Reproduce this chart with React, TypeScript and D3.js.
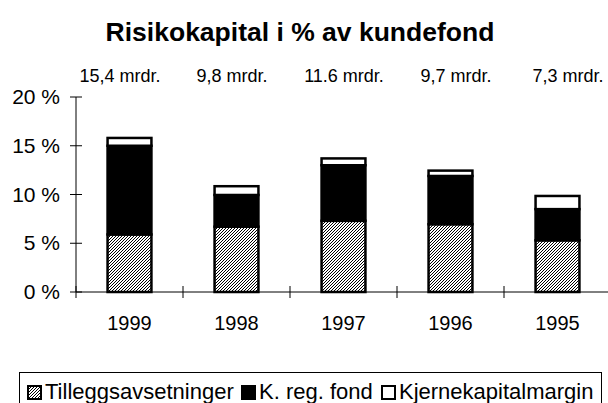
import React from 'react';
import { scaleBand, scaleLinear, scalePoint, stack } from 'd3';

const years = ['1999', '1998', '1997', '1996', '1995'];
const tillegg = [5.9, 6.7, 7.3, 6.95, 5.3];
const kRegFond = [9.1, 3.25, 5.7, 4.95, 3.2];
const kjerne = [0.8, 0.9, 0.7, 0.55, 1.35];
const sizeLabels = ['15,4 mrdr.', '9,8 mrdr.', '11.6 mrdr.', '9,7 mrdr.', '7,3 mrdr.'];
const yTicks = [0, 5, 10, 15, 20];
const seriesNames = ['Tilleggsavsetninger', 'K. reg. fond', 'Kjernekapitalmargin'];

const W = 608;
const H = 403;
const font = '"Liberation Sans", Arial, sans-serif';

// fills per series: hatch, solid black, white
const fills = ['url(#hatch)', '#000', '#fff'];

// pixel cells of a 3x3 "/" hatch tile
const hatchCells: [number, number][] = [];
for (let px = 0; px < 3; px++) {
  for (let py = 0; py < 3; py++) {
    if ((px + py) % 3 === 0) hatchCells.push([px, py]);
  }
}

const App = () => {
  const rows = years.map((y, i) => ({ year: y, a: tillegg[i], b: kRegFond[i], c: kjerne[i] }));
  const series = stack<any>().keys(['a', 'b', 'c'])(rows);

  const x = scaleBand().domain(years).range([76, 611]).paddingInner(0.59).paddingOuter(0.295);
  const y = scaleLinear().domain([0, 20]).range([292, 97]);
  const labelX = scalePoint().domain(years).range([120, 568]);

  const step = x.step();
  const catTicks = years.map((_, i) => 76 + i * step);

  const legendItems = [
    { name: seriesNames[0], x: 28 },
    { name: seriesNames[1], x: 242 },
    { name: seriesNames[2], x: 382 },
  ];

  return (
    <svg width={W} height={H} style={{ position: 'absolute', left: 0, top: 0, background: '#fff' }}>
      <defs>
        <pattern id="hatch" width="3" height="3" patternUnits="userSpaceOnUse">
          <rect width="3" height="3" fill="#fff" />
          {hatchCells.map(([px, py]) => (
            <rect key={px + '-' + py} x={px} y={py} width={1} height={1} fill="#000" shapeRendering="crispEdges" />
          ))}
        </pattern>
      </defs>
      <rect width={W} height={H} fill="#fff" />

      <text x={300} y={41} textAnchor="middle" fontFamily={font} fontWeight="bold" fontSize={26.5}>
        Risikokapital i % av kundefond
      </text>

      {years.map((yr, i) => (
        <text key={yr} x={labelX(yr)} y={82} textAnchor="middle" fontFamily={font} fontSize={18}>
          {sizeLabels[i]}
        </text>
      ))}

      {/* y axis */}
      <line x1={76} x2={76} y1={y(20)} y2={y(0)} stroke="#000" />
      {yTicks.map(t => (
        <g key={t}>
          <line x1={70} x2={82} y1={y(t)} y2={y(t)} stroke="#000" />
          <text x={60} y={y(t) + 7} textAnchor="end" fontFamily={font} fontSize={21}>
            {t} %
          </text>
        </g>
      ))}

      {/* bars */}
      {series.map((s, si) =>
        s.map(d => (
          <rect
            key={si + d.data.year}
            x={x(d.data.year)}
            y={y(d[1])}
            width={x.bandwidth()}
            height={y(d[0]) - y(d[1])}
            fill={fills[si]}
            stroke="#000"
            strokeWidth={2.5}
          />
        ))
      )}

      {/* x axis */}
      <line x1={76} x2={611} y1={y(0)} y2={y(0)} stroke="#000" />
      {catTicks.map((cx, i) => (
        <line key={i} x1={cx} x2={cx} y1={y(0) - 6} y2={y(0) + 6} stroke="#000" />
      ))}
      {years.map(yr => (
        <text key={yr} x={(x(yr) as number) + x.bandwidth() / 2} y={330} textAnchor="middle" fontFamily={font} fontSize={20}>
          {yr}
        </text>
      ))}

      {/* legend */}
      <rect x={19.5} y={372.5} width={582} height={40} fill="#fff" stroke="#000" />
      {legendItems.map((it, i) => (
        <g key={it.name}>
          <rect x={it.x} y={386} width={13} height={13} fill={fills[i]} stroke="#000" strokeWidth={2} />
          <text x={it.x + 17} y={399} fontFamily={font} fontSize={22}>
            {it.name}
          </text>
        </g>
      ))}
    </svg>
  );
};

export default App;
